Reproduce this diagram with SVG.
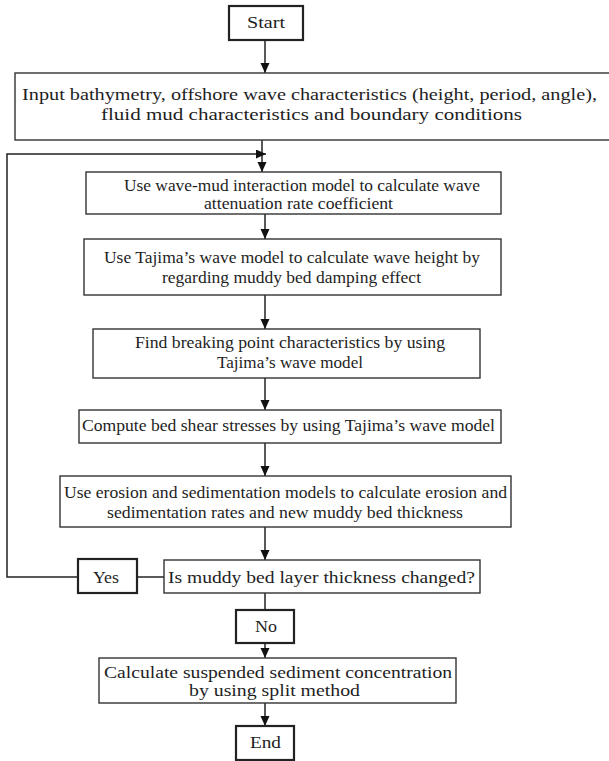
<svg xmlns="http://www.w3.org/2000/svg" width="609" height="761" viewBox="0 0 609 761">
<style>
text{font-size:16px;fill:#1e1e1e}
.box{fill:#fff;stroke:#333;stroke-width:1.4}
.tb{fill:#fff;stroke:#222;stroke-width:2.2}
.ln{fill:none;stroke:#222;stroke-width:1.5}
</style>
<defs>
<marker id="ah" markerUnits="userSpaceOnUse" markerWidth="10" markerHeight="10" refX="10" refY="4.5" orient="auto">
<path d="M0,0 L10,4.5 L0,9 z" fill="#111"/>
</marker>
</defs>
<rect width="609" height="761" fill="#fff"/>
<g id="connectors">
<line class="ln" x1="265" y1="40" x2="265" y2="73" marker-end="url(#ah)"/>
<line class="ln" x1="262" y1="140" x2="262" y2="172" marker-end="url(#ah)"/>
<polyline class="ln" points="78,577 7,577 7,154 266,154" marker-end="url(#ah)"/>
<line class="ln" x1="265" y1="214" x2="265" y2="239" marker-end="url(#ah)"/>
<line class="ln" x1="265" y1="295" x2="265" y2="329" marker-end="url(#ah)"/>
<line class="ln" x1="265" y1="378" x2="265" y2="410" marker-end="url(#ah)"/>
<line class="ln" x1="265" y1="443" x2="265" y2="476" marker-end="url(#ah)"/>
<line class="ln" x1="265" y1="527" x2="265" y2="560" marker-end="url(#ah)"/>
<line class="ln" x1="137" y1="577" x2="164" y2="577"/>
<line class="ln" x1="265" y1="593" x2="265" y2="610"/>
<line class="ln" x1="265" y1="643" x2="265" y2="658" marker-end="url(#ah)"/>
<line class="ln" x1="265" y1="703" x2="265" y2="726" marker-end="url(#ah)"/>
</g>
<g font-family="Liberation Serif, DejaVu Serif, serif">
<g id="start">
<rect class="tb" x="229" y="6" width="74" height="34"/>
<text x="247" y="28" textLength="38" lengthAdjust="spacingAndGlyphs">Start</text>
</g>
<g id="input">
<rect class="box" x="15" y="73" width="600" height="67"/>
<text x="22" y="100" textLength="575" lengthAdjust="spacingAndGlyphs">Input bathymetry, offshore wave characteristics (height, period, angle),</text>
<text x="101" y="120" textLength="421" lengthAdjust="spacingAndGlyphs">fluid mud characteristics and boundary conditions</text>
</g>
<g id="attenuation">
<rect class="box" x="86" y="172" width="415" height="42"/>
<text x="124" y="191" textLength="356" lengthAdjust="spacingAndGlyphs">Use wave-mud interaction model to calculate wave</text>
<text x="204" y="209" textLength="189" lengthAdjust="spacingAndGlyphs">attenuation rate coefficient</text>
</g>
<g id="waveheight">
<rect class="box" x="84" y="239" width="417" height="56"/>
<text x="104" y="263" textLength="376" lengthAdjust="spacingAndGlyphs">Use Tajima’s wave model to calculate wave height by</text>
<text x="162" y="283" textLength="259" lengthAdjust="spacingAndGlyphs">regarding muddy bed damping effect</text>
</g>
<g id="breaking">
<rect class="box" x="93" y="329" width="387" height="49"/>
<text x="135" y="348" textLength="310" lengthAdjust="spacingAndGlyphs">Find breaking point characteristics by using</text>
<text x="217" y="368" textLength="146" lengthAdjust="spacingAndGlyphs">Tajima’s wave model</text>
</g>
<g id="shear">
<rect class="box" x="79" y="410" width="422" height="33"/>
<text x="82" y="431" textLength="413" lengthAdjust="spacingAndGlyphs">Compute bed shear stresses by using Tajima’s wave model</text>
</g>
<g id="erosion">
<rect class="box" x="60" y="476" width="451" height="51"/>
<text x="64" y="498" textLength="443" lengthAdjust="spacingAndGlyphs">Use erosion and sedimentation models to calculate erosion and</text>
<text x="107" y="518" textLength="356" lengthAdjust="spacingAndGlyphs">sedimentation rates and new muddy bed thickness</text>
</g>
<g id="decision">
<rect class="box" x="164" y="560" width="316" height="33"/>
<text x="168" y="583" textLength="307" lengthAdjust="spacingAndGlyphs">Is muddy bed layer thickness changed?</text>
</g>
<g id="yes">
<rect class="tb" x="78" y="559" width="59" height="34"/>
<text x="93" y="583" textLength="26" lengthAdjust="spacingAndGlyphs">Yes</text>
</g>
<g id="no">
<rect class="tb" x="236" y="610" width="58" height="33"/>
<text x="255" y="632" textLength="22" lengthAdjust="spacingAndGlyphs">No</text>
</g>
<g id="ssc">
<rect class="box" x="99" y="658" width="357" height="45"/>
<text x="104" y="678" textLength="348" lengthAdjust="spacingAndGlyphs">Calculate suspended sediment concentration</text>
<text x="189" y="696" textLength="171" lengthAdjust="spacingAndGlyphs">by using split method</text>
</g>
<g id="end">
<rect class="tb" x="236" y="726" width="58" height="34"/>
<text x="250" y="748" textLength="31" lengthAdjust="spacingAndGlyphs">End</text>
</g>
</g>
</svg>
